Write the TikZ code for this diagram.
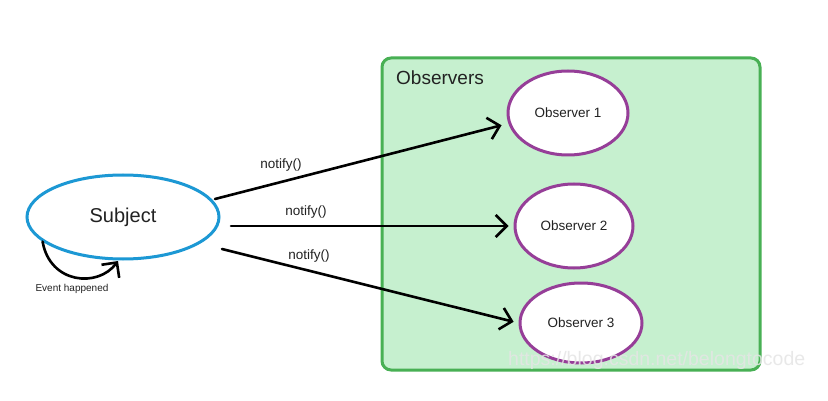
\documentclass[tikz,border=0pt]{standalone}
\usepackage{fontspec}
\setmainfont{Liberation Sans}
\usetikzlibrary{shapes.geometric,arrows.meta}

\definecolor{subjblue}{RGB}{28,152,212}
\definecolor{obspurple}{RGB}{150,62,152}
\definecolor{groupline}{RGB}{72,176,84}
\definecolor{groupfill}{RGB}{198,240,207}
\definecolor{inkgray}{RGB}{34,34,34}

\tikzset{
  subjectnode/.style={ellipse, draw=subjblue, line width=3pt, fill=white,
    minimum width=192pt, minimum height=84pt, inner sep=0pt,
    font=\fontsize{20pt}{22pt}\selectfont, text=inkgray},
  observernode/.style={ellipse, draw=obspurple, line width=3pt, fill=white,
    inner sep=0pt, font=\fontsize{13.5pt}{15pt}\selectfont, text=inkgray},
  flow/.style={line width=2.6pt, line cap=round,
    -{Straight Barb[length=11pt,width=22pt,line width=2.6pt]}},
  calllabel/.style={font=\fontsize{13.5pt}{15pt}\selectfont, text=inkgray, inner sep=0pt},
}

\begin{document}
\begin{tikzpicture}[x=1pt,y=-1pt]
  \useasboundingbox (0,0) rectangle (828,401);
  \fill[white] (0,0) rectangle (828,401);

  % observer group
  \node[draw=groupline, fill=groupfill, line width=3pt, rounded corners=9pt,
        minimum width=378pt, minimum height=312pt, inner sep=0pt]
        (group) at (571,214) {};
  \node[anchor=west, font=\fontsize{19pt}{21pt}\selectfont, text=inkgray, inner sep=0pt]
        (grouptitle) at (396,78) {Observers};

  % participants
  \node[subjectnode] (subject) at (123,217) {Subject};
  \node[observernode, minimum width=120pt, minimum height=84pt] (o1) at (568,113) {Observer 1};
  \node[observernode, minimum width=118pt, minimum height=84pt] (o2) at (574,226) {Observer 2};
  \node[observernode, minimum width=122pt, minimum height=80pt] (o3) at (581,323) {Observer 3};

  % start points of the notify calls
  \coordinate (s1) at (215,199);
  \coordinate (s2) at (231,226);
  \coordinate (s3) at (222,249);

  \draw[flow, shorten >=7pt] (s1) -- (o1.190);
  \draw[flow, shorten >=5pt] (s2) -- (o2.west);
  \draw[flow, shorten >=5pt] (s3) -- (o3.west);

  \node[calllabel] (n1) at (281,165) {notify()};
  \node[calllabel] (n2) at (306,212) {notify()};
  \node[calllabel] (n3) at (309,256) {notify()};

  % internal event
  \coordinate (evend) at (118,261);
  \draw[flow] (subject.197) .. controls (50,284) and (98,288) .. (evend);
  \node[font=\fontsize{10pt}{11pt}\selectfont, text=inkgray, inner sep=0pt]
        (evlabel) at (72,289) {Event happened};

  % blog address
  \node[anchor=west, font=\fontsize{19.5pt}{21pt}\selectfont, text=white!80!gray,
        opacity=0.85, inner sep=0pt] (url) at (508,360) {https://blog.csdn.net/belongtocode};
\end{tikzpicture}
\end{document}
